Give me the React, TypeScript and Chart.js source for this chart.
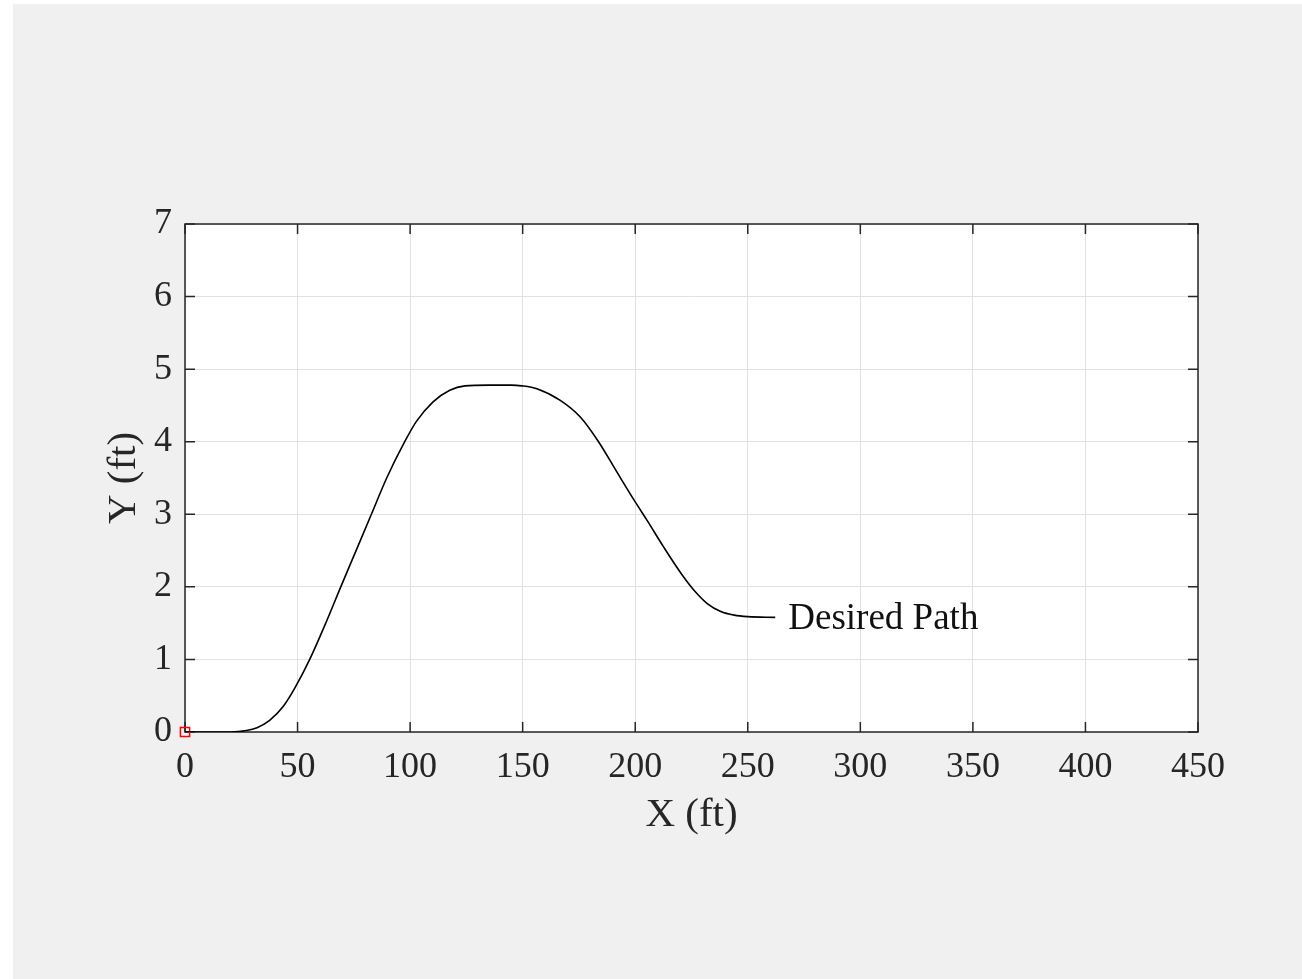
import React, { useEffect, useRef } from "react";
import { Chart, registerables } from "chart.js";

Chart.register(...registerables);

const pathX = [0, 10, 20, 27.3, 32, 37.6, 43.6, 48.7, 55.4, 62.8, 69.2, 76, 82.8, 89.6, 97.6, 102.8, 110.2, 117.6, 124.3, 135, 145, 149.6, 156.3, 166.7, 175.6, 183.7, 191.9, 200, 205.2, 212.6, 220.7, 226.2, 232, 238, 244, 250, 262.2];
const pathY = [0, 0, 0, 0.02, 0.06, 0.16, 0.35, 0.6, 1.0, 1.52, 2.0, 2.5, 3.0, 3.5, 4.0, 4.28, 4.55, 4.71, 4.77, 4.78, 4.78, 4.77, 4.73, 4.57, 4.34, 4.0, 3.58, 3.17, 2.92, 2.55, 2.17, 1.95, 1.77, 1.66, 1.61, 1.59, 1.58];
const startPoint = { x: 0, y: 0 };
const annotationText = "Desired Path";
const annotationAt = { x: 268, y: 1.58 };
const xTitle = "X (ft)";
const yTitle = "Y (ft)";
const xRange = { min: 0, max: 450, step: 50 };
const yRange = { min: 0, max: 7, step: 1 };

const FONT = "'Liberation Serif', 'Times New Roman', serif";
const AXIS_COLOR = "#262626";

const framePlugin = {
  id: "frame",
  beforeDraw(chart: any) {
    const { ctx, width, height, chartArea } = chart;
    ctx.save();
    ctx.fillStyle = "#ffffff";
    ctx.fillRect(0, 0, width, height);
    ctx.fillStyle = "#f0f0f0";
    ctx.fillRect(13, 4, width - 13, height - 4);
    ctx.fillStyle = "#ffffff";
    ctx.fillRect(chartArea.left, chartArea.top, chartArea.right - chartArea.left, chartArea.bottom - chartArea.top);
    ctx.restore();
  },
  beforeDatasetsDraw(chart: any) {
    const { ctx, chartArea, scales } = chart;
    const { left, right, top, bottom } = chartArea;
    const tl = 10;
    ctx.save();
    ctx.strokeStyle = AXIS_COLOR;
    ctx.lineWidth = 1.5;
    ctx.beginPath();
    for (let v = xRange.min; v <= xRange.max; v += xRange.step) {
      const px = scales.x.getPixelForValue(v);
      ctx.moveTo(px, bottom);
      ctx.lineTo(px, bottom - tl);
      ctx.moveTo(px, top);
      ctx.lineTo(px, top + tl);
    }
    for (let v = yRange.min; v <= yRange.max; v += yRange.step) {
      const py = scales.y.getPixelForValue(v);
      ctx.moveTo(left, py);
      ctx.lineTo(left + tl, py);
      ctx.moveTo(right, py);
      ctx.lineTo(right - tl, py);
    }
    ctx.stroke();
    ctx.strokeRect(left, top, right - left, bottom - top);
    ctx.restore();
  },
  afterDatasetsDraw(chart: any) {
    const { ctx, scales } = chart;
    const px = scales.x.getPixelForValue(annotationAt.x);
    const py = scales.y.getPixelForValue(annotationAt.y);
    ctx.save();
    ctx.fillStyle = "#111111";
    ctx.font = `37px ${FONT}`;
    ctx.textAlign = "left";
    ctx.textBaseline = "middle";
    ctx.fillText(annotationText, px, py + 2);
    ctx.restore();
  },
};

export default function App() {
  const ref = useRef<HTMLCanvasElement | null>(null);
  useEffect(() => {
    document.body.style.margin = "0";
    const canvas = ref.current!;
    const chart = new Chart(canvas, {
      type: "scatter",
      data: {
        datasets: [
          {
            data: pathX.map((x, i) => ({ x, y: pathY[i] })),
            showLine: true,
            borderColor: "#000000",
            borderWidth: 1.6,
            pointRadius: 0,
            cubicInterpolationMode: "monotone",
            fill: false,
          },
          {
            data: [startPoint],
            pointStyle: "rect",
            pointRadius: 6.5,
            borderColor: "#ff0000",
            backgroundColor: "rgba(0,0,0,0)",
            borderWidth: 1.5,
            clip: false,
          } as any,
        ],
      },
      options: {
        animation: false,
        responsive: false,
        events: [],
        layout: { padding: { left: 0, top: 224, right: 104, bottom: 127 } },
        plugins: { legend: { display: false }, tooltip: { enabled: false } },
        scales: {
          x: {
            type: "linear",
            min: xRange.min,
            max: xRange.max,
            afterFit: (s: any) => { s.height = 120; },
            ticks: { stepSize: xRange.step, color: AXIS_COLOR, font: { family: FONT, size: 36 }, padding: 14, maxRotation: 0 },
            grid: { color: "#e2e2e2", lineWidth: 1, drawTicks: false },
            border: { display: false },
            title: { display: true, text: xTitle, color: AXIS_COLOR, font: { family: FONT, size: 41 }, padding: { top: 0, bottom: 12 } },
          },
          y: {
            type: "linear",
            min: yRange.min,
            max: yRange.max,
            afterFit: (s: any) => { s.width = 185; },
            ticks: { stepSize: yRange.step, color: AXIS_COLOR, font: { family: FONT, size: 36 }, padding: 13 },
            grid: { color: "#e2e2e2", lineWidth: 1, drawTicks: false },
            border: { display: false },
            title: { display: true, text: yTitle, color: AXIS_COLOR, font: { family: FONT, size: 41 }, padding: { top: 100, bottom: 0 } },
          },
        },
      },
      plugins: [framePlugin],
    });
    return () => chart.destroy();
  }, []);
  return <canvas ref={ref} width={1302} height={979} style={{ display: "block", width: 1302, height: 979 }} />;
}
